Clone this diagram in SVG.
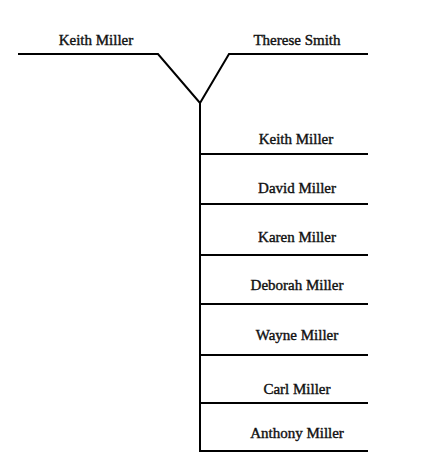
<svg xmlns="http://www.w3.org/2000/svg" width="421" height="469" viewBox="0 0 421 469">
<style>
.l{fill:none;stroke:#000;stroke-width:2;stroke-linejoin:miter}
text{font-family:"Liberation Serif","DejaVu Serif",serif;font-size:15px;fill:#111;stroke:#111;stroke-width:0.4;text-anchor:middle}
</style>
<rect width="421" height="469" fill="#fff"/>
<g id="connectors">
<polyline class="l" points="18,54 158,54 200,103 229,54 368,54"/>
<line class="l" x1="200" y1="103" x2="200" y2="452"/>
<line class="l" x1="200" y1="154" x2="368" y2="154"/>
<line class="l" x1="200" y1="204" x2="368" y2="204"/>
<line class="l" x1="200" y1="255" x2="368" y2="255"/>
<line class="l" x1="200" y1="304" x2="368" y2="304"/>
<line class="l" x1="200" y1="355" x2="368" y2="355"/>
<line class="l" x1="200" y1="403" x2="368" y2="403"/>
<line class="l" x1="199" y1="451" x2="368" y2="451"/>
</g>
<g id="father"><text x="96" y="45">Keith Miller</text></g>
<g id="mother"><text x="297" y="45">Therese Smith</text></g>
<g id="child1"><text x="296" y="144">Keith Miller</text></g>
<g id="child2"><text x="297" y="193">David Miller</text></g>
<g id="child3"><text x="297" y="242">Karen Miller</text></g>
<g id="child4"><text x="297" y="290">Deborah Miller</text></g>
<g id="child5"><text x="297" y="340">Wayne Miller</text></g>
<g id="child6"><text x="297" y="394">Carl Miller</text></g>
<g id="child7"><text x="297" y="438">Anthony Miller</text></g>
</svg>
